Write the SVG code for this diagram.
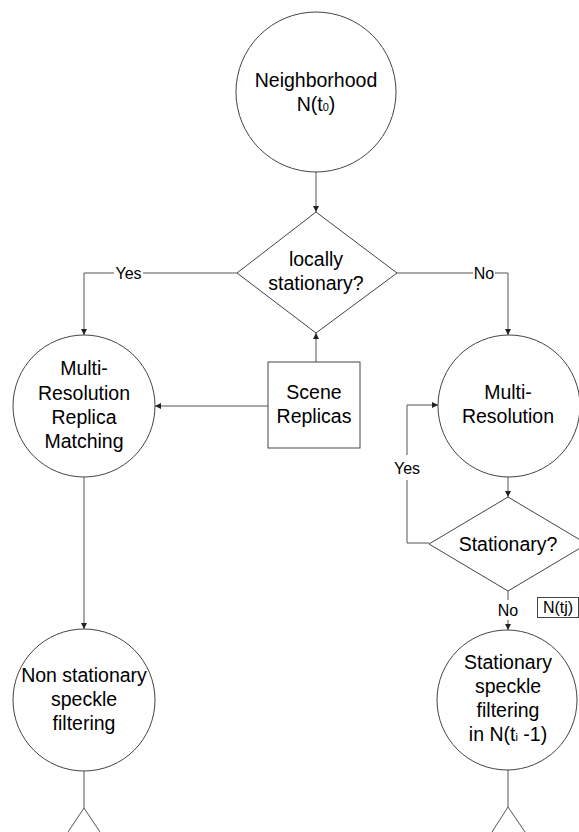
<svg xmlns="http://www.w3.org/2000/svg" width="579" height="832" viewBox="0 0 579 832">
<style>
.shape{fill:#fff;stroke:#444;stroke-width:1}
.ln{fill:none;stroke:#555;stroke-width:1}
.arr{fill:none;stroke:#555;stroke-width:1;marker-end:url(#ah)}
text{font-family:"Liberation Sans",Arial,sans-serif;fill:#000;text-anchor:middle}
.t{font-size:19.5px}
.lb{font-size:16px}
.gap{fill:#fff;stroke:none}
</style>
<defs>
<marker id="ah" markerUnits="userSpaceOnUse" markerWidth="7" markerHeight="7" refX="6" refY="3" orient="auto">
<path d="M0,0 L6,3 L0,6 z" fill="#222"/>
</marker>
</defs>
<rect width="579" height="832" fill="#fff"/>
<g id="connectors">
<path class="arr" d="M316,172 V212"/>
<path class="arr" d="M237,273 H84 V335"/>
<path class="arr" d="M397,273 H508 V335"/>
<path class="arr" d="M316,362 V333"/>
<path class="arr" d="M268,406 H155"/>
<path class="arr" d="M84,477 V629"/>
<path class="arr" d="M508,477 V497"/>
<path class="arr" d="M429,543 H407 V405 H438"/>
<path class="arr" d="M508,591 V630"/>
<path class="ln" d="M84,770 V808 M84,808 L68,832 M84,808 L100,832"/>
<path class="ln" d="M508,770 V807 M508,807 L492,832 M508,807 L525,832"/>
<rect class="gap" x="114" y="265" width="29" height="16"/>
<text class="lb" x="128.5" y="279">Yes</text>
<rect class="gap" x="473" y="265" width="22" height="16"/>
<text class="lb" x="484" y="279">No</text>
<rect class="gap" x="392" y="455" width="30" height="25"/>
<text class="lb" x="407" y="474">Yes</text>
<rect class="gap" x="496" y="600" width="24" height="20"/>
<text class="lb" x="508" y="616">No</text>
</g>
<g id="n_neighborhood">
<circle class="shape" cx="316" cy="92" r="80"/>
<text class="t" x="316" y="87">Neighborhood</text>
<text class="t" x="316" y="111">N(t<tspan font-size="11px">0</tspan>)</text>
</g>
<g id="n_locally">
<path class="shape" d="M316,212 L397,273 L316,333 L237,273 Z"/>
<text class="t" x="316" y="266">locally</text>
<text class="t" x="316" y="290">stationary?</text>
</g>
<g id="n_mrrm">
<circle class="shape" cx="84" cy="406" r="71"/>
<text class="t" x="84" y="375">Multi-</text>
<text class="t" x="84" y="400">Resolution</text>
<text class="t" x="84" y="424">Replica</text>
<text class="t" x="84" y="448">Matching</text>
</g>
<g id="n_scene">
<rect class="shape" x="268" y="362" width="92" height="86"/>
<text class="t" x="314" y="399">Scene</text>
<text class="t" x="314" y="423">Replicas</text>
</g>
<g id="n_mr">
<circle class="shape" cx="509" cy="406" r="71"/>
<text class="t" x="508" y="399">Multi-</text>
<text class="t" x="508" y="423">Resolution</text>
</g>
<g id="n_stationary">
<path class="shape" d="M508,497 L587,544 L508,591 L429,544 Z"/>
<text class="t" x="508" y="551">Stationary?</text>
</g>
<g id="n_ntj">
<rect class="shape" x="537.5" y="597.5" width="41" height="20"/>
<text class="lb" x="558" y="613" font-size="15px">N(tj)</text>
</g>
<g id="n_nonstat">
<circle class="shape" cx="84" cy="700" r="71"/>
<text class="t" x="84" y="682">Non stationary</text>
<text class="t" x="84" y="706">speckle</text>
<text class="t" x="84" y="730">filtering</text>
</g>
<g id="n_statfilt">
<circle class="shape" cx="507" cy="700" r="70"/>
<text class="t" x="508" y="669">Stationary</text>
<text class="t" x="508" y="693">speckle</text>
<text class="t" x="508" y="717">filtering</text>
<text class="t" x="508" y="741">in N(t<tspan font-size="11px">i</tspan> -1)</text>
</g>
</svg>
